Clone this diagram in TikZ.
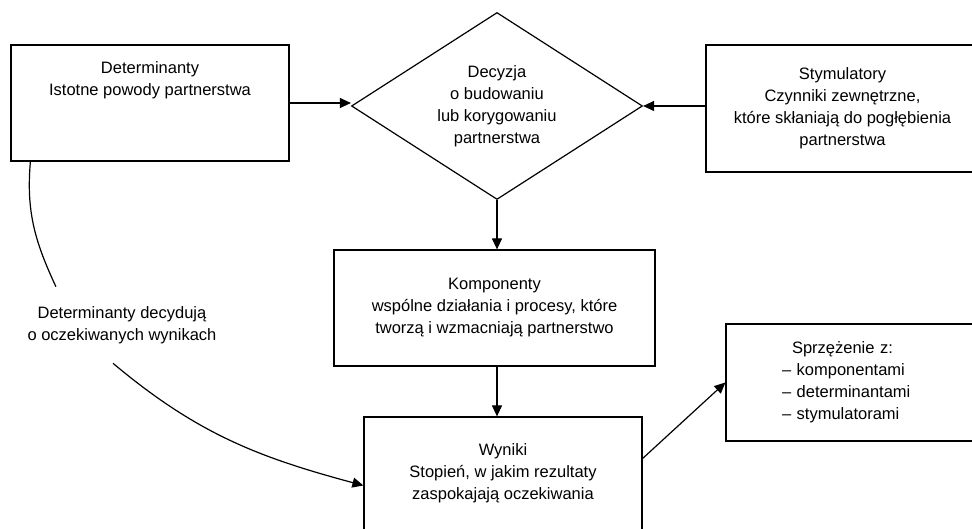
\documentclass[tikz,border=0pt]{standalone}
\usepackage{fontspec}
\setmainfont{Liberation Sans}
\usetikzlibrary{shapes.geometric,arrows.meta}

\begin{document}
\begin{tikzpicture}[x=1pt, y=1pt, line width=1.2pt,
  txt/.style={font=\fontsize{16.5}{22}\selectfont, align=center},
  box/.style={txt, rectangle, draw, inner sep=0pt},
  decision/.style={txt, diamond, draw, aspect=1.556, inner sep=0pt, minimum width=291pt, minimum height=187pt},
  arr/.style={-{Triangle[length=11pt,width=10pt]}}]
\useasboundingbox (0,0) rectangle (972,529);

\node[box, minimum width=278pt, minimum height=116pt, text depth=49pt] (det) at (150,426) {Determinanty\\Istotne powody partnerstwa};
\node[decision] (dec) at (497,423) {Decyzja\\o budowaniu\\lub korygowaniu\\partnerstwa};
\node[box, minimum width=273pt, minimum height=127pt] (stim) at (842.5,420.5) {Stymulatory\\Czynniki zewnętrzne,\\które skłaniają do pogłębienia\\partnerstwa};
\node[box, minimum width=321pt, minimum height=116pt] (komp) at (494.5,221) {Komponenty\\wspólne działania i procesy, które\\tworzą i wzmacniają partnerstwo};
\node[box, minimum width=278pt, minimum height=113pt] (wyn) at (503,55.5) {Wyniki\\Stopień, w jakim rezultaty\\zaspokajają oczekiwania};
\node[box, minimum width=254pt, minimum height=117pt, text width=142pt, align=left] (sprz) at (853,146.5) {\hspace*{10pt}Sprzężenie z:\\– komponentami\\– determinantami\\– stymulatorami};
\node[txt, inner xsep=6pt, inner ysep=19pt] (lab) at (122,204) {Determinanty decydują\\o oczekiwanych wynikach};

\draw[arr] (det.east) -- (det.east -| dec.west);
\draw[arr] (stim.west |- dec.east) -- (dec.east);
\draw[arr] (dec.south) -- (dec.south |- komp.north);
\draw[arr] (dec.south |- komp.south) -- (dec.south |- wyn.north);
\draw[arr] ([yshift=15pt]wyn.east) -- (sprz.west);
\draw ([xshift=20pt]det.south west) to[out=265, in=115] ([xshift=35pt]lab.north west);
\draw[arr] ([xshift=-9pt]lab.south) to[out=-40, in=165] ([yshift=-12pt]wyn.west);
\end{tikzpicture}
\end{document}
